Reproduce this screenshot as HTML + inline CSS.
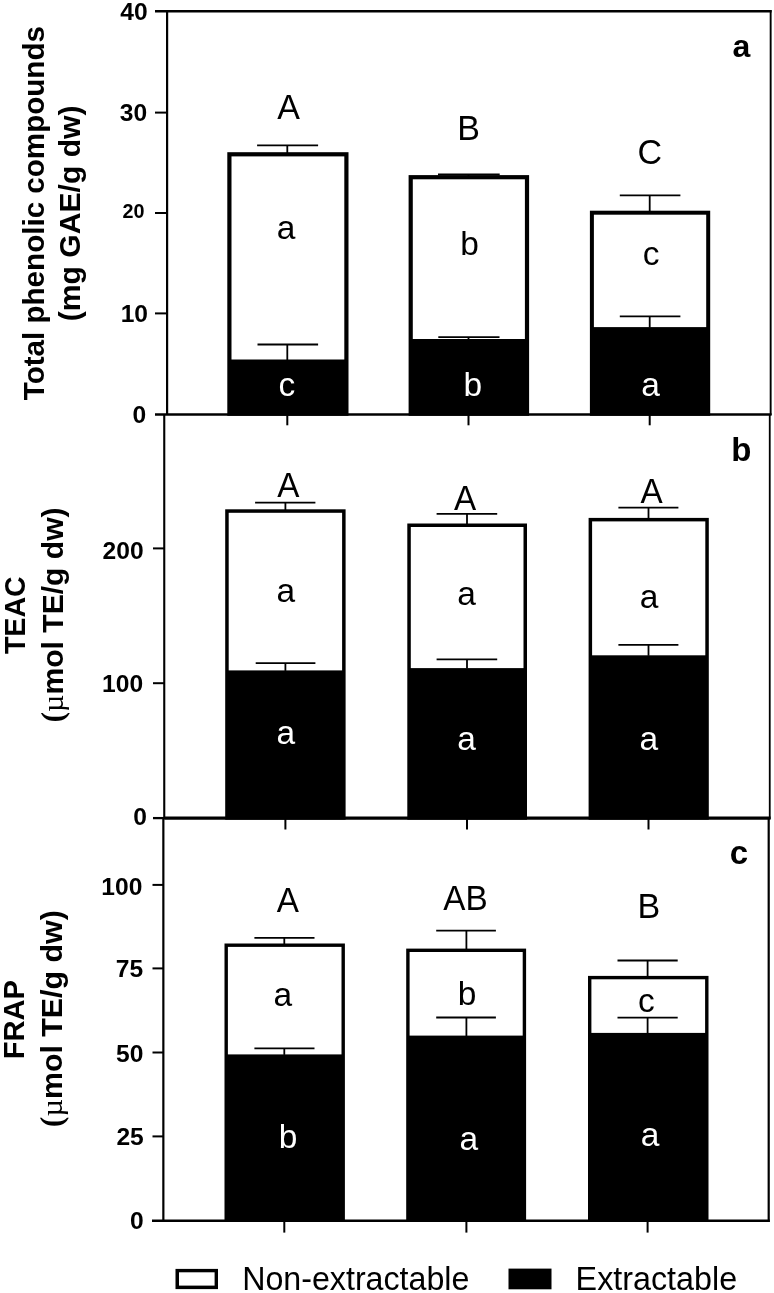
<!DOCTYPE html>
<html><head><meta charset="utf-8"><style>
html,body{margin:0;padding:0;background:#fff;}
body{width:774px;height:1293px;overflow:hidden;}
svg{display:block;will-change:transform;font-family:"Liberation Sans",sans-serif;}
</style></head><body>
<svg width="774" height="1293" viewBox="0 0 774 1293">
<rect width="774" height="1293" fill="#fff"/>
<rect x="227.3" y="152.2" width="121.19999999999999" height="263.6" fill="#000"/>
<rect x="231.5" y="156.39999999999998" width="112.79999999999998" height="203.10000000000002" fill="#fff"/>
<line x1="257.1" y1="145.4" x2="318.1" y2="145.4" stroke="#000" stroke-width="1.8"/>
<line x1="287.3" y1="145.4" x2="287.3" y2="153.2" stroke="#000" stroke-width="1.8"/>
<line x1="257.5" y1="344.5" x2="318.1" y2="344.5" stroke="#000" stroke-width="1.8"/>
<line x1="287.3" y1="344.5" x2="287.3" y2="360.0" stroke="#000" stroke-width="1.8"/>
<rect x="408.6" y="175.1" width="120.5" height="240.70000000000002" fill="#000"/>
<rect x="412.8" y="179.29999999999998" width="112.1" height="159.70000000000002" fill="#fff"/>
<line x1="438.0" y1="174.5" x2="499.7" y2="174.5" stroke="#000" stroke-width="1.8"/>
<line x1="468.5" y1="174.5" x2="468.5" y2="176.1" stroke="#000" stroke-width="1.8"/>
<line x1="438.3" y1="337.2" x2="499.5" y2="337.2" stroke="#000" stroke-width="1.8"/>
<line x1="468.5" y1="337.2" x2="468.5" y2="339.5" stroke="#000" stroke-width="1.8"/>
<rect x="589.9" y="210.7" width="120.30000000000007" height="205.10000000000002" fill="#000"/>
<rect x="593.9" y="214.7" width="112.30000000000007" height="112.40000000000003" fill="#fff"/>
<line x1="619.8" y1="195.4" x2="680.4" y2="195.4" stroke="#000" stroke-width="1.8"/>
<line x1="649.7" y1="195.4" x2="649.7" y2="211.7" stroke="#000" stroke-width="1.8"/>
<line x1="619.8" y1="316.3" x2="680.4" y2="316.3" stroke="#000" stroke-width="1.8"/>
<line x1="649.7" y1="316.3" x2="649.7" y2="327.6" stroke="#000" stroke-width="1.8"/>
<line x1="155" y1="11.25" x2="771.6" y2="11.25" stroke="#000" stroke-width="2.3"/>
<line x1="167.1" y1="10.1" x2="167.1" y2="415" stroke="#000" stroke-width="2.2"/>
<line x1="770.65" y1="10.1" x2="770.65" y2="415" stroke="#000" stroke-width="1.9"/>
<line x1="155" y1="414.5" x2="771.6" y2="414.5" stroke="#000" stroke-width="2.6"/>
<line x1="155" y1="112.6" x2="167" y2="112.6" stroke="#000" stroke-width="2"/>
<line x1="155" y1="213" x2="167" y2="213" stroke="#000" stroke-width="2"/>
<line x1="155" y1="313.4" x2="167" y2="313.4" stroke="#000" stroke-width="2"/>
<line x1="287.3" y1="414.5" x2="287.3" y2="425.3" stroke="#000" stroke-width="2"/>
<line x1="468.5" y1="414.5" x2="468.5" y2="425.3" stroke="#000" stroke-width="2"/>
<line x1="649.7" y1="414.5" x2="649.7" y2="425.3" stroke="#000" stroke-width="2"/>
<text x="147.6" y="19.6" font-size="24.6" font-weight="bold" text-anchor="end" fill="#000">40</text>
<text x="147.2" y="121.0" font-size="24.6" font-weight="bold" text-anchor="end" fill="#000">30</text>
<text x="144.4" y="218.4" font-size="19.8" font-weight="bold" text-anchor="end" fill="#000">20</text>
<text x="148.0" y="321.9" font-size="24.6" font-weight="bold" text-anchor="end" fill="#000">10</text>
<text x="146.1" y="422.5" font-size="24.6" font-weight="bold" text-anchor="end" fill="#000">0</text>
<text transform="translate(288.6,119.1) scale(1,1.03)" font-size="34" font-weight="normal" text-anchor="middle" fill="#000">A</text>
<text transform="translate(468.6,140.0) scale(1,1.03)" font-size="34" font-weight="normal" text-anchor="middle" fill="#000">B</text>
<text transform="translate(649.7,163.5) scale(1,1.03)" font-size="34" font-weight="normal" text-anchor="middle" fill="#000">C</text>
<text x="286.05" y="238.8" font-size="33.5" font-weight="normal" text-anchor="middle" fill="#000">a</text>
<text x="286.9" y="396.2" font-size="33.5" font-weight="normal" text-anchor="middle" fill="#fff">c</text>
<text x="469.65" y="254.6" font-size="33.5" font-weight="normal" text-anchor="middle" fill="#000">b</text>
<text x="472.75" y="396.1" font-size="33.5" font-weight="normal" text-anchor="middle" fill="#fff">b</text>
<text x="651.2" y="265.0" font-size="33.5" font-weight="normal" text-anchor="middle" fill="#000">c</text>
<text x="650.5" y="396.1" font-size="33.5" font-weight="normal" text-anchor="middle" fill="#fff">a</text>
<text x="741.5" y="56.5" font-size="32" font-weight="bold" text-anchor="middle" fill="#000">a</text>
<text transform="translate(44.3,400.2) rotate(-90) scale(1,0.985)" font-size="29.6" font-weight="bold">Total phenolic compounds</text>
<text transform="translate(80.4,321.2) rotate(-90) scale(1,1.0)" font-size="30.1" font-weight="bold">(mg GAE/g dw)</text>
<rect x="225.2" y="509.3" width="120.40000000000003" height="310.40000000000003" fill="#000"/>
<rect x="228.7" y="512.8" width="113.40000000000003" height="157.59999999999997" fill="#fff"/>
<line x1="255.1" y1="502.6" x2="315.4" y2="502.6" stroke="#000" stroke-width="1.8"/>
<line x1="285.4" y1="502.6" x2="285.4" y2="510.3" stroke="#000" stroke-width="1.8"/>
<line x1="255.7" y1="663.2" x2="315.4" y2="663.2" stroke="#000" stroke-width="1.8"/>
<line x1="285.4" y1="663.2" x2="285.4" y2="670.9" stroke="#000" stroke-width="1.8"/>
<rect x="407.3" y="523.5" width="119.69999999999999" height="296.20000000000005" fill="#000"/>
<rect x="410.8" y="527.0" width="112.69999999999999" height="141.10000000000002" fill="#fff"/>
<line x1="436.6" y1="513.9" x2="497.2" y2="513.9" stroke="#000" stroke-width="1.8"/>
<line x1="467.0" y1="513.9" x2="467.0" y2="524.5" stroke="#000" stroke-width="1.8"/>
<line x1="436.6" y1="659.4" x2="497.2" y2="659.4" stroke="#000" stroke-width="1.8"/>
<line x1="467.0" y1="659.4" x2="467.0" y2="668.6" stroke="#000" stroke-width="1.8"/>
<rect x="588.6" y="517.9" width="120.19999999999993" height="301.80000000000007" fill="#000"/>
<rect x="592.1" y="521.4" width="113.19999999999993" height="133.89999999999998" fill="#fff"/>
<line x1="618.4" y1="507.6" x2="678.4" y2="507.6" stroke="#000" stroke-width="1.8"/>
<line x1="648.5" y1="507.6" x2="648.5" y2="518.9" stroke="#000" stroke-width="1.8"/>
<line x1="618.4" y1="644.8" x2="678.4" y2="644.8" stroke="#000" stroke-width="1.8"/>
<line x1="648.5" y1="644.8" x2="648.5" y2="655.8" stroke="#000" stroke-width="1.8"/>
<line x1="164.25" y1="414" x2="164.25" y2="819" stroke="#000" stroke-width="2.1"/>
<line x1="769.75" y1="414" x2="769.75" y2="819" stroke="#000" stroke-width="1.8"/>
<line x1="164.25" y1="818.1" x2="770.6" y2="818.1" stroke="#000" stroke-width="3.2"/>
<line x1="153" y1="818.1" x2="164.25" y2="818.1" stroke="#000" stroke-width="2.3"/>
<line x1="153" y1="548.4" x2="164.2" y2="548.4" stroke="#000" stroke-width="2"/>
<line x1="153" y1="683.2" x2="164.2" y2="683.2" stroke="#000" stroke-width="2"/>
<line x1="285.4" y1="818.1" x2="285.4" y2="829.5" stroke="#000" stroke-width="2"/>
<line x1="467.0" y1="818.1" x2="467.0" y2="829.5" stroke="#000" stroke-width="2"/>
<line x1="648.5" y1="818.1" x2="648.5" y2="829.5" stroke="#000" stroke-width="2"/>
<text x="143.6" y="558.7" font-size="24.6" font-weight="bold" text-anchor="end" fill="#000">200</text>
<text x="143.1" y="691.9" font-size="24.6" font-weight="bold" text-anchor="end" fill="#000">100</text>
<text x="146.9" y="824.7" font-size="24.6" font-weight="bold" text-anchor="end" fill="#000">0</text>
<text transform="translate(288.25,496.6) scale(1,1.065)" font-size="33.3" font-weight="normal" text-anchor="middle" fill="#000">A</text>
<text transform="translate(465.15,509.5) scale(1,1.065)" font-size="33.3" font-weight="normal" text-anchor="middle" fill="#000">A</text>
<text transform="translate(651.6,502.9) scale(1,1.065)" font-size="33.3" font-weight="normal" text-anchor="middle" fill="#000">A</text>
<text x="285.85" y="602.3" font-size="33.5" font-weight="normal" text-anchor="middle" fill="#000">a</text>
<text x="466.5" y="605.4" font-size="33.5" font-weight="normal" text-anchor="middle" fill="#000">a</text>
<text x="648.9499999999999" y="608.1" font-size="33.5" font-weight="normal" text-anchor="middle" fill="#000">a</text>
<text x="285.75" y="743.7" font-size="33.5" font-weight="normal" text-anchor="middle" fill="#fff">a</text>
<text x="466.55" y="750.4" font-size="33.5" font-weight="normal" text-anchor="middle" fill="#fff">a</text>
<text x="648.75" y="749.6" font-size="33.5" font-weight="normal" text-anchor="middle" fill="#fff">a</text>
<text x="741.3" y="461.2" font-size="33" font-weight="bold" text-anchor="middle" fill="#000">b</text>
<text transform="translate(24.6,654.1) rotate(-90) scale(1,1.04)" font-size="28.6" font-weight="bold">TEAC</text>
<text transform="translate(63.0,722.6) rotate(-90)" font-size="30.1" font-weight="bold"><tspan font-family="Liberation Serif" font-size="32">(</tspan><tspan font-family="Liberation Serif" font-weight="normal">µ</tspan>mol TE/g dw)</text>
<rect x="224.5" y="943.5" width="120.39999999999998" height="278.4000000000001" fill="#000"/>
<rect x="227.9" y="946.9" width="113.59999999999998" height="107.50000000000009" fill="#fff"/>
<line x1="254.4" y1="937.8" x2="314.5" y2="937.8" stroke="#000" stroke-width="1.8"/>
<line x1="284.3" y1="937.8" x2="284.3" y2="944.5" stroke="#000" stroke-width="1.8"/>
<line x1="254.4" y1="1048.4" x2="314.5" y2="1048.4" stroke="#000" stroke-width="1.8"/>
<line x1="284.3" y1="1048.4" x2="284.3" y2="1054.9" stroke="#000" stroke-width="1.8"/>
<rect x="406.2" y="948.6" width="119.90000000000003" height="273.30000000000007" fill="#000"/>
<rect x="409.59999999999997" y="952.0" width="113.10000000000004" height="83.59999999999988" fill="#fff"/>
<line x1="436.2" y1="930.7" x2="495.9" y2="930.7" stroke="#000" stroke-width="1.8"/>
<line x1="466.4" y1="930.7" x2="466.4" y2="949.6" stroke="#000" stroke-width="1.8"/>
<line x1="436.2" y1="1017.5" x2="495.9" y2="1017.5" stroke="#000" stroke-width="1.8"/>
<line x1="466.4" y1="1017.5" x2="466.4" y2="1036.1" stroke="#000" stroke-width="1.8"/>
<rect x="588.0" y="975.9" width="120.5" height="246.0000000000001" fill="#000"/>
<rect x="591.4" y="979.3" width="113.7" height="53.600000000000115" fill="#fff"/>
<line x1="617.5" y1="960.5" x2="677.7" y2="960.5" stroke="#000" stroke-width="1.8"/>
<line x1="647.6" y1="960.5" x2="647.6" y2="976.9" stroke="#000" stroke-width="1.8"/>
<line x1="617.5" y1="1017.7" x2="677.7" y2="1017.7" stroke="#000" stroke-width="1.8"/>
<line x1="647.6" y1="1017.7" x2="647.6" y2="1033.4" stroke="#000" stroke-width="1.8"/>
<line x1="163.35" y1="818" x2="163.35" y2="1221.9" stroke="#000" stroke-width="2.2"/>
<line x1="768.7" y1="818" x2="768.7" y2="1221.9" stroke="#000" stroke-width="2.2"/>
<line x1="152" y1="1220.7" x2="769.8" y2="1220.7" stroke="#000" stroke-width="2.4"/>
<line x1="152.5" y1="884.9" x2="163.4" y2="884.9" stroke="#000" stroke-width="2"/>
<line x1="152.5" y1="968.4" x2="163.4" y2="968.4" stroke="#000" stroke-width="2"/>
<line x1="152.5" y1="1052.5" x2="163.4" y2="1052.5" stroke="#000" stroke-width="2"/>
<line x1="152.5" y1="1136.4" x2="163.4" y2="1136.4" stroke="#000" stroke-width="2"/>
<line x1="284.3" y1="1220.7" x2="284.3" y2="1232.6" stroke="#000" stroke-width="2"/>
<line x1="466.4" y1="1220.7" x2="466.4" y2="1232.6" stroke="#000" stroke-width="2"/>
<line x1="647.6" y1="1220.7" x2="647.6" y2="1232.6" stroke="#000" stroke-width="2"/>
<text x="142.4" y="894.6" font-size="24.6" font-weight="bold" text-anchor="end" fill="#000">100</text>
<text x="143.1" y="977.0" font-size="24.6" font-weight="bold" text-anchor="end" fill="#000">75</text>
<text x="143.4" y="1062.2" font-size="24.6" font-weight="bold" text-anchor="end" fill="#000">50</text>
<text x="143.8" y="1144.9" font-size="24.6" font-weight="bold" text-anchor="end" fill="#000">25</text>
<text x="143.8" y="1228.9" font-size="24.6" font-weight="bold" text-anchor="end" fill="#000">0</text>
<text transform="translate(287.8,911.5) scale(1,1.065)" font-size="33.3" font-weight="normal" text-anchor="middle" fill="#000">A</text>
<text transform="translate(465.4,910.4) scale(1,1.065)" font-size="33.3" font-weight="normal" text-anchor="middle" fill="#000">AB</text>
<text transform="translate(648.8,917.5) scale(1,1.035)" font-size="34" font-weight="normal" text-anchor="middle" fill="#000">B</text>
<text x="282.75" y="1006.1" font-size="33.5" font-weight="normal" text-anchor="middle" fill="#000">a</text>
<text x="467.05" y="1005.0" font-size="33.5" font-weight="normal" text-anchor="middle" fill="#000">b</text>
<text x="646.45" y="1011.8" font-size="33.5" font-weight="normal" text-anchor="middle" fill="#000">c</text>
<text x="287.95" y="1147.7" font-size="33.5" font-weight="normal" text-anchor="middle" fill="#fff">b</text>
<text x="468.75" y="1150.4" font-size="33.5" font-weight="normal" text-anchor="middle" fill="#fff">a</text>
<text x="650.15" y="1146.2" font-size="33.5" font-weight="normal" text-anchor="middle" fill="#fff">a</text>
<text x="738.85" y="863.9" font-size="33" font-weight="bold" text-anchor="middle" fill="#000">c</text>
<text transform="translate(24.0,1059.3) rotate(-90) scale(1,1.0)" font-size="29.1" font-weight="bold">FRAP</text>
<text transform="translate(62.2,1127.2) rotate(-90)" font-size="30.35" font-weight="bold"><tspan font-family="Liberation Serif" font-size="32">(</tspan><tspan font-family="Liberation Serif" font-weight="normal">µ</tspan>mol TE/g dw)</text>
<rect x="175.5" y="1268.9" width="42.5" height="20.2" fill="#000"/>
<rect x="179.0" y="1272.3" width="35.6" height="13.3" fill="#fff"/>
<text transform="translate(242.2,1290) scale(1,1.05)" font-size="32.2" font-weight="normal" text-anchor="start" fill="#000">Non-extractable</text>
<rect x="508.5" y="1268.6" width="43" height="20.7" fill="#000"/>
<text transform="translate(575.6,1290.2) scale(1,1.05)" font-size="32.3" font-weight="normal" text-anchor="start" fill="#000">Extractable</text>
</svg>
</body></html>
